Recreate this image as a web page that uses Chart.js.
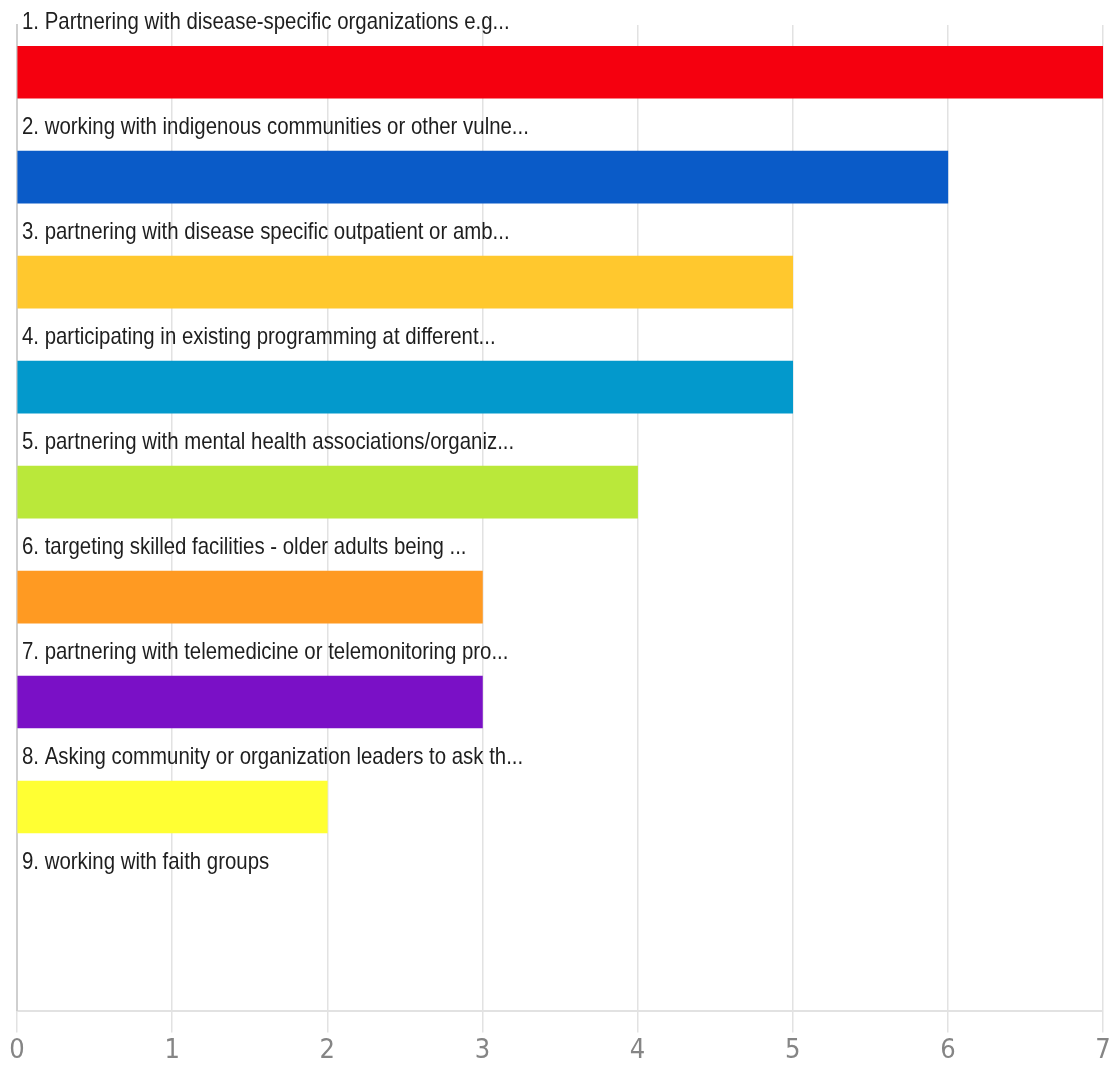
<!DOCTYPE html>
<html>
<head>
<meta charset="utf-8">
<script src="https://cdn.jsdelivr.net/npm/chart.js@4.4.1/dist/chart.umd.min.js"></script>
<style>
  html, body { margin: 0; padding: 0; background: #fff; }
  #wrap { width: 1114px; height: 1073px; position: relative; }
</style>
</head>
<body>
<div id="wrap"><canvas id="barChart"></canvas></div>
<script>
const categories = [
  '1. Partnering with disease-specific organizations e.g...',
  '2. working with indigenous communities or other vulne...',
  '3. partnering with disease specific outpatient or amb...',
  '4. participating in existing programming at different...',
  '5. partnering with mental health associations/organiz...',
  '6. targeting skilled facilities - older adults being ...',
  '7. partnering with telemedicine or telemonitoring pro...',
  '8. Asking community or organization leaders to ask th...',
  '9. working with faith groups'
];
const counts = [7, 6, 5, 5, 4, 3, 3, 2, 0];
const barColors = ['#f5000f', '#0a5bc8', '#ffc82e', '#0399cc', '#bae83a', '#ff9a22', '#7a10c6', '#ffff33', 'rgba(0,0,0,0)'];
const xTicks = [0, 1, 2, 3, 4, 5, 6, 7];

// category labels sit above each bar, inside the plot (narrow look via x-scale)
const labelsAbove = {
  id: 'labelsAbove',
  afterDatasetsDraw(chart) {
    const { ctx, chartArea, scales } = chart;
    const squeeze = 0.85;
    ctx.save();
    ctx.font = "24px 'Liberation Sans', Arial, sans-serif";
    ctx.fillStyle = '#1e1e1e';
    ctx.textBaseline = 'middle';
    ctx.textAlign = 'left';
    categories.forEach((txt, i) => {
      const y = scales.y.getPixelForValue(i) - 50;
      ctx.save();
      ctx.translate(chartArea.left + 5, y);
      ctx.scale(squeeze, 1);
      ctx.fillText(txt, 0, 0);
      ctx.restore();
    });
    ctx.restore();
  }
};

new Chart(document.getElementById('barChart'), {
  type: 'bar',
  data: {
    datasets: [{
      data: counts.map((v, i) => ({ x: v, y: i })),
      backgroundColor: barColors,
      borderWidth: 0,
      barThickness: 52
    }]
  },
  options: {
    indexAxis: 'y',
    responsive: true,
    maintainAspectRatio: false,
    animation: false,
    layout: { padding: { left: 9, right: 11, top: 25, bottom: 4 } },
    plugins: {
      legend: { display: false },
      tooltip: { enabled: false }
    },
    scales: {
      x: {
        type: 'linear',
        min: 0,
        max: 7,
        afterBuildTicks: s => { s.ticks = xTicks.map(v => ({ value: v })); },
        grid: { color: '#e2e2e2', lineWidth: 1.5, tickLength: 22 },
        border: { color: '#e2e2e2', width: 2 },
        ticks: {
          color: '#858585',
          padding: 2,
          font: { size: 27, family: "'DejaVu Sans Condensed', 'DejaVu Sans', sans-serif" }
        }
      },
      y: {
        type: 'linear',
        reverse: true,
        offset: false,
        min: -0.45,
        max: 8.94,
        grid: { display: false },
        border: { color: '#cfcfcf', width: 2 },
        ticks: { display: false }
      }
    }
  },
  plugins: [labelsAbove]
});
</script>
</body>
</html>
